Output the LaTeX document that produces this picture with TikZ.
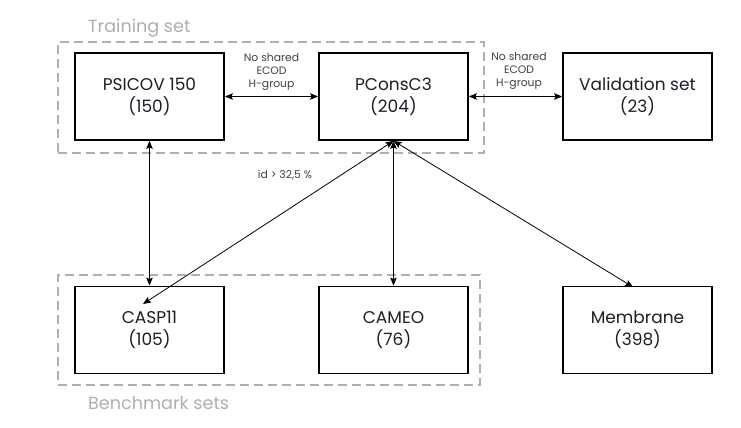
\documentclass[tikz,border=0pt]{standalone}
\usepackage{fontspec}
\setmainfont{Poppins}
\usetikzlibrary{arrows.meta}
\definecolor{grpgray}{RGB}{175,175,175}
\definecolor{txt}{RGB}{30,30,40}
\begin{document}
\begin{tikzpicture}[x=1pt,y=-1pt,
  box/.style={draw=black, line width=1.8pt, minimum width=149pt, minimum height=87pt,
    inner sep=0pt, align=center, text=txt, font=\fontsize{17}{22}\selectfont},
  grp/.style={draw=grpgray, line width=1.6pt, dash pattern=on 9pt off 5pt,
    inner sep=0pt},
  grplabel/.style={text=grpgray, anchor=west, inner sep=0pt, font=\fontsize{17.6}{20}\selectfont},
  small/.style={text=txt!85, align=center, inner sep=0pt, font=\fontsize{10.8}{13}\selectfont},
  arr/.style={line width=0.8pt, {Stealth[length=8pt,width=6.5pt,inset=1.5pt]}-{Stealth[length=8pt,width=6.5pt,inset=1.5pt]}}
]
\useasboundingbox[fill=white] (0,0) rectangle (741,428);

% group frames
\node[grp, minimum width=426pt, minimum height=111pt] (train) at (271,97.5) {};
\node[grp, minimum width=422pt, minimum height=110pt] (bench) at (269,330) {};
\node[grplabel] (trainlbl) at (88,28) {Training set};
\node[grplabel] (benchlbl) at (88,403) {Benchmark sets};

% boxes
\node[box] (ps)  at (149.5,96.5) {PSICOV 150\\(150)};
\node[box] (pc)  at (393.5,96.5) {PConsC3\\(204)};
\node[box] (val) at (637.5,96.5) {Validation set\\(23)};
\node[box] (casp)  at (149.5,330) {CASP11\\(105)};
\node[box] (cameo) at (393.5,330) {CAMEO\\(76)};
\node[box] (mem)   at (637.5,330) {Membrane\\(398)};

\coordinate (caspin) at (143,304);
\coordinate (memtop) at (633,287);

% connectors
\draw[arr] (ps.east) -- (pc.west);
\draw[arr] (pc.east) -- (val.west);
\draw[arr] (ps.south) -- (casp.north);
\draw[arr] (pc.south) -- (caspin);
\draw[arr] (pc.south) -- (cameo.north);
\draw[arr] (pc.south) -- (memtop);

% labels
\node[small] (l1) at (271.5,72) {No shared\\ECOD\\H-group};
\node[small] (l2) at (519,71) {No shared\\ECOD\\H-group};
\node[small] (l3) at (285,175) {id > 32,5 \%};
\end{tikzpicture}
\end{document}
